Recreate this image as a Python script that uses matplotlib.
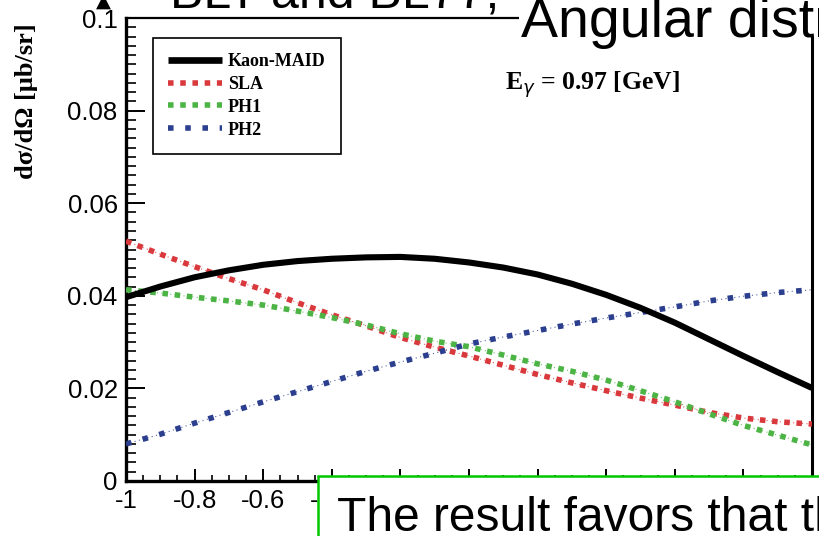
import matplotlib
matplotlib.use('Agg')
import matplotlib.pyplot as plt
from matplotlib.patches import Rectangle
from matplotlib.lines import Line2D
from matplotlib.ticker import FixedLocator, MultipleLocator
from matplotlib.font_manager import FontProperties

# ---------------- data ----------------
cos_theta = [-1.0, -0.9, -0.8, -0.7, -0.6, -0.5, -0.4, -0.3, -0.2, -0.1, 0.0,
             0.1, 0.2, 0.3, 0.4, 0.5, 0.6, 0.7, 0.8, 0.9, 1.0]
kaon_maid = [0.0397, 0.0420, 0.0440, 0.0455, 0.0467, 0.0475, 0.0480, 0.0483, 0.0484, 0.0480, 0.0472,
             0.0461, 0.0446, 0.0426, 0.0402, 0.0374, 0.0342, 0.0306, 0.0270, 0.0235, 0.0201]
sla = [0.0518, 0.0490, 0.0463, 0.0437, 0.0413, 0.0385, 0.0359, 0.0335, 0.0310, 0.0289, 0.0270,
       0.0250, 0.0230, 0.0212, 0.0195, 0.0179, 0.0164, 0.0148, 0.0136, 0.0128, 0.0123]
ph1 = [0.0413, 0.0406, 0.0397, 0.0389, 0.0380, 0.0367, 0.0353, 0.0337, 0.0318, 0.0302, 0.0290,
       0.0272, 0.0253, 0.0237, 0.0218, 0.0195, 0.0171, 0.0145, 0.0120, 0.0099, 0.0078]
ph2 = [0.0080, 0.0101, 0.0125, 0.0148, 0.0171, 0.0193, 0.0215, 0.0237, 0.0257, 0.0276, 0.0296,
       0.0311, 0.0325, 0.0339, 0.0352, 0.0364, 0.0376, 0.0389, 0.0399, 0.0407, 0.0413]
series_labels = ['Kaon-MAID', 'SLA', 'PH1', 'PH2']

x_ticks = [-1, -0.8, -0.6, -0.4, -0.2, 0, 0.2, 0.4, 0.6, 0.8, 1]
x_tick_labels = ['-1', '-0.8', '-0.6', '-0.4', '-0.2', '0', '0.2', '0.4', '0.6', '0.8', '1']
y_ticks = [0, 0.02, 0.04, 0.06, 0.08, 0.1]
y_tick_labels = ['0', '0.02', '0.04', '0.06', '0.08', '0.1']

y_label = 'dσ/dΩ [μb/sr]'
energy_text = r'E$_{\gamma}$ = 0.97 [GeV]'
slide_title = 'Angular distribution'
slide_heading = 'BLT and BL77,'
slide_note = 'The result favors that the'

# ---------------- styling ----------------
RED = '#d9383c'
GREEN = '#4cb444'
BLUE = '#2b3f8e'
SANS = ['Liberation Sans', 'DejaVu Sans']
SERIF = ['Liberation Serif', 'DejaVu Serif']

W, H = 819, 536
fig = plt.figure(figsize=(W / 100, H / 100), dpi=100)
fig.patch.set_facecolor('white')

ax = fig.add_axes([126 / W, 1 - 481 / H, (812 - 126) / W, (481 - 18) / H])
ax.set_xlim(-1, 1)
ax.set_ylim(0, 0.1)

# curves
ax.plot(cos_theta, kaon_maid, color='black', lw=4.4, solid_capstyle='butt', zorder=6)
dotted = [(sla, RED, 1.2), (ph1, GREEN, 1.2), (ph2, BLUE, 2.1)]
for vals, col, gap in dotted:
    ax.plot(cos_theta, vals, color=col, lw=0.8, ls=(0, (1, 3)), alpha=0.8, zorder=4)
    ax.plot(cos_theta, vals, color=col, lw=4.0, ls=(0, (1, gap)),
            dash_capstyle='butt', zorder=5)

# axes styling
ax.xaxis.set_major_locator(FixedLocator(x_ticks))
ax.set_xticklabels(x_tick_labels)
ax.xaxis.set_minor_locator(MultipleLocator(0.05))
ax.yaxis.set_major_locator(FixedLocator(y_ticks))
ax.set_yticklabels(y_tick_labels)
ax.yaxis.set_minor_locator(MultipleLocator(0.002))

ax.tick_params(axis='x', which='major', direction='in', length=9, width=1.4,
               top=False, pad=6, labelsize=18.5)
ax.tick_params(axis='x', which='minor', direction='in', length=4.5, width=1.2, top=False)
ax.tick_params(axis='y', which='major', direction='in', length=14, width=1.4,
               right=False, pad=6, labelsize=18.5)
ax.tick_params(axis='y', which='minor', direction='in', length=7, width=1.2, right=False)
for lab in ax.get_xticklabels() + ax.get_yticklabels():
    lab.set_family(SANS)
# tick labels that sit completely under the note box of the slide
for lab, val in zip(ax.get_xticklabels(), x_ticks):
    if val > -0.3:
        lab.set_visible(False)

ax.spines['left'].set_linewidth(2.4)
ax.spines['bottom'].set_linewidth(2.4)
ax.spines['top'].set_linewidth(1.6)
ax.spines['right'].set_linewidth(2.2)

ax.set_ylabel(y_label, fontsize=19, fontweight='bold', family=SERIF)
ax.yaxis.set_label_coords(-0.128, 0.82)

ax.text(0.552, 0.845, energy_text, transform=ax.transAxes, fontsize=18.5,
        fontweight='bold', family=SERIF, ha='left', va='baseline')

# legend
handles = [
    Line2D([], [], color='black', lw=4.8, solid_capstyle='butt'),
    Line2D([], [], color=RED, lw=4.0, ls=(0, (1, 1.2)), dash_capstyle='butt'),
    Line2D([], [], color=GREEN, lw=4.0, ls=(0, (1, 1.2)), dash_capstyle='butt'),
    Line2D([], [], color=BLUE, lw=4.0, ls=(0, (1, 2.1)), dash_capstyle='butt'),
]
leg = ax.legend(handles, series_labels, loc='upper left', bbox_to_anchor=(0.039, 0.957),
                frameon=True, fancybox=False, edgecolor='black', framealpha=1,
                prop=FontProperties(family=SERIF, weight='bold', size=13),
                handlelength=3.0, handletextpad=0.3, borderpad=0.85,
                labelspacing=0.32, borderaxespad=0)
leg.get_frame().set_linewidth(1.2)

# ---------------- slide overlays ----------------
ov = fig.add_axes([0, 0, 1, 1], zorder=10)
ov.set_xlim(0, W)
ov.set_ylim(H, 0)
ov.axis('off')
ov.patch.set_alpha(0)

ov.add_patch(Rectangle((519, -5), 310, 41, fc='white', ec='none'))
ov.text(521, 37, slide_title, fontsize=40, family=SANS, ha='left', va='baseline')
ov.text(170, 8, slide_heading, fontsize=36, family=SANS, ha='left', va='baseline')
ov.text(96, 7, '▲', fontsize=14, family=['DejaVu Sans'], ha='left', va='baseline')

ov.add_patch(Rectangle((318, 476), 600, 120, fc='white', ec='#00c800', lw=1.8))
ov.text(337, 531, slide_note, fontsize=34.5, family=SANS, ha='left', va='baseline')

fig.savefig('out.png', dpi=100)
